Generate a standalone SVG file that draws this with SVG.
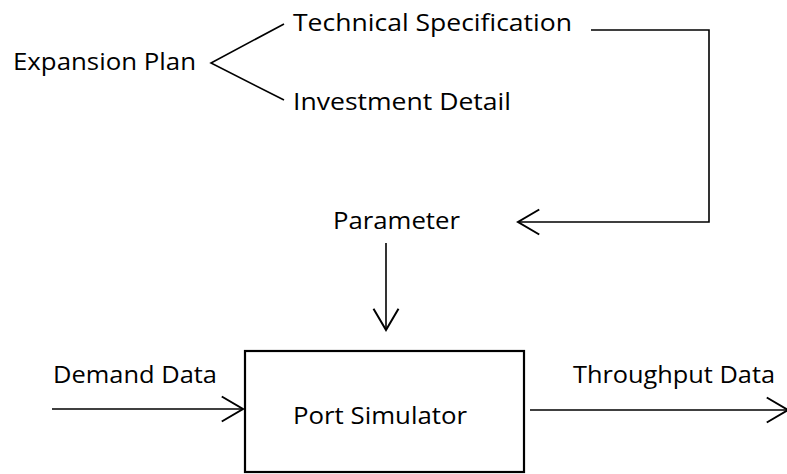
<svg xmlns="http://www.w3.org/2000/svg" width="787" height="474" viewBox="0 0 787 474">
<style>
  text { font-family: "Open Sans", "Liberation Sans", Arial, sans-serif; font-size: 23.5px; fill: #000; }
  .conn { fill: none; stroke: #000; stroke-width: 1.6; }
  .box { fill: #fff; stroke: #000; stroke-width: 2.2; }
</style>
<defs>
  <marker id="open" markerUnits="userSpaceOnUse" markerWidth="30" markerHeight="30" viewBox="-20 -12 24 24" refX="0" refY="0" orient="auto">
    <path d="M-17,-10 L0,0 L-17,10" fill="none" stroke="#000" stroke-width="1.6"/>
  </marker>
</defs>
<rect width="787" height="474" fill="#fff"/>
<g id="connectors">
  <polyline class="conn" points="284,24 211,63 284,100"/>
  <polyline class="conn" points="591,30 709,30 709,222 518,222" marker-end="url(#open)"/>
  <line class="conn" x1="386" y1="243" x2="386" y2="330" marker-end="url(#open)"/>
  <line class="conn" x1="52" y1="409" x2="243" y2="409" marker-end="url(#open)"/>
  <line class="conn" x1="530" y1="410" x2="788" y2="410" marker-end="url(#open)"/>
</g>
<g id="expansion-plan"><text x="13" y="70" textLength="183" lengthAdjust="spacingAndGlyphs">Expansion Plan</text></g>
<g id="technical-specification"><text x="293" y="31" textLength="279" lengthAdjust="spacingAndGlyphs">Technical Specification</text></g>
<g id="investment-detail"><text x="293" y="110" textLength="218" lengthAdjust="spacingAndGlyphs">Investment Detail</text></g>
<g id="parameter"><text x="333" y="229" textLength="127" lengthAdjust="spacingAndGlyphs">Parameter</text></g>
<g id="demand-data"><text x="53" y="383" textLength="164" lengthAdjust="spacingAndGlyphs">Demand Data</text></g>
<g id="throughput-data"><text x="573" y="383" textLength="202" lengthAdjust="spacingAndGlyphs">Throughput Data</text></g>
<g id="port-simulator">
  <rect class="box" x="245" y="351" width="279" height="121"/>
  <text x="293" y="424" textLength="174" lengthAdjust="spacingAndGlyphs">Port Simulator</text>
</g>
</svg>
